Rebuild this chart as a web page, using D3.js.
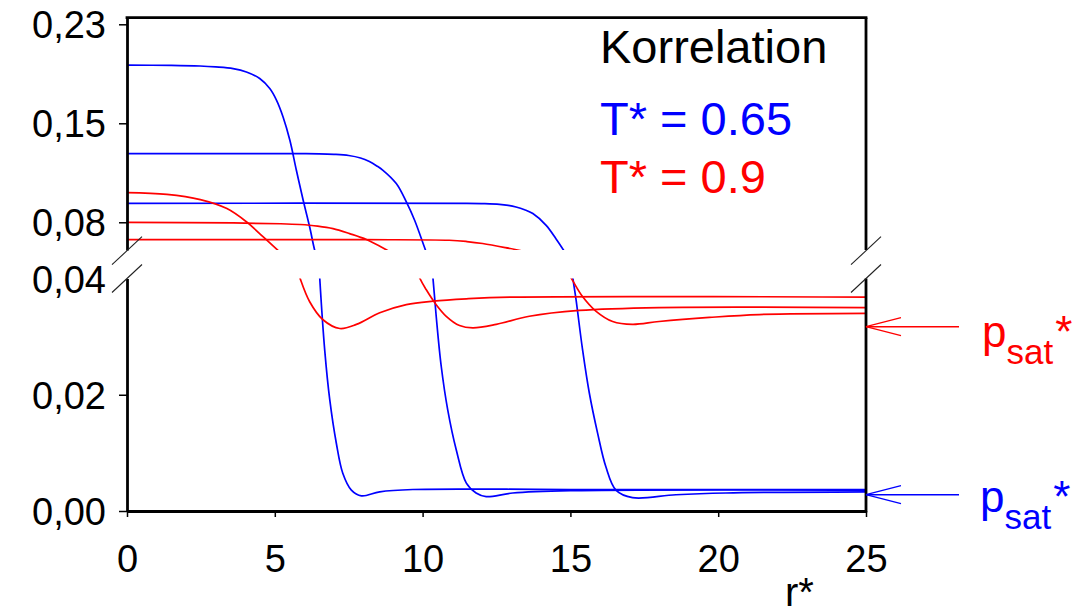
<!DOCTYPE html>
<html>
<head>
<meta charset="utf-8">
<script src="https://cdn.jsdelivr.net/npm/d3@7"></script>
<style>
    body { margin: 0; background: #fff; }
    svg { display: block; font-family: "Liberation Sans", Arial, sans-serif; }
</style>
</head>
<body>
<svg id="chart" width="1077" height="616"></svg>
<script>
// [r*, p*], T* = 0.65
const blue1 = [[0, 0.194], [1.5, 0.1939], [2.47, 0.1934], [3.0, 0.1927], [3.59, 0.1914], [4.04, 0.1889],
    [4.49, 0.1839], [4.83, 0.1763], [5.06, 0.1674], [5.28, 0.1548], [5.51, 0.1371], [5.73, 0.1144],
    [5.96, 0.0917], [6.18, 0.0714], [6.35, 0.0538], [6.45, 0.047], [6.52, 0.0401], [6.69, 0.0276],
    [6.86, 0.0191], [7.08, 0.0117], [7.3, 0.0065], [7.59, 0.0036], [7.93, 0.0026], [8.55, 0.0033],
    [9.67, 0.0037], [15, 0.0037], [25, 0.0037]]
const blue2 = [[0, 0.127], [5.85, 0.127], [6.5, 0.1269], [7.0, 0.1265], [7.5, 0.1256], [7.9, 0.1237],
    [8.2, 0.121], [8.45, 0.1177], [8.66, 0.1144], [9.11, 0.1043], [9.45, 0.0904], [9.73, 0.0765],
    [10.1, 0.0538], [10.22, 0.047], [10.35, 0.0401], [10.46, 0.0335], [10.63, 0.0249], [10.85, 0.0174],
    [11.14, 0.0105], [11.48, 0.0048], [11.81, 0.0031], [12.15, 0.00247], [13.05, 0.0031], [15, 0.0035], [25, 0.0036]]
const blue3 = [[0, 0.0894], [11.5, 0.0893], [12.1, 0.0891], [12.6, 0.0886], [12.9, 0.0878], [13.16, 0.0866],
    [13.45, 0.0845], [13.73, 0.0816], [14.18, 0.0727], [14.51, 0.0626], [14.77, 0.0538], [14.93, 0.047],
    [15.08, 0.0402], [15.19, 0.0364], [15.41, 0.0278], [15.64, 0.0203], [15.92, 0.0134], [16.2, 0.0076],
    [16.54, 0.0036], [17.1, 0.0023], [18.57, 0.0028], [20.26, 0.0031], [25, 0.0033]]

// T* = 0.9
const red1 = [[0, 0.0975], [1.35, 0.0962], [2.48, 0.0922], [3.38, 0.0854], [4.05, 0.0752], [4.61, 0.0639],
    [5.08, 0.0543], [5.45, 0.0468], [5.85, 0.0401], [6.18, 0.036], [6.63, 0.0329], [7.2, 0.0314],
    [7.76, 0.0321], [8.55, 0.0341], [9.45, 0.0355], [10.35, 0.0361], [11.48, 0.0365], [13.05, 0.0368], [25, 0.0368]]
const red2 = [[0, 0.075], [3.6, 0.0745], [5.2, 0.0739], [5.85, 0.0733], [6.45, 0.0721], [6.97, 0.0702],
    [7.53, 0.0664], [8.1, 0.0619], [8.83, 0.0535], [9.35, 0.047], [9.9, 0.0401], [10.12, 0.0381],
    [10.46, 0.0355], [10.8, 0.0335], [11.25, 0.0319], [11.7, 0.0315], [12.49, 0.0321], [13.61, 0.0335],
    [15.3, 0.0345], [18, 0.035], [25, 0.035]]
const red3 = [[0, 0.0619], [8, 0.0618], [10.9, 0.0614], [11.5, 0.0604], [12.03, 0.0589], [12.8, 0.0558],
    [13.35, 0.0533], [14.2, 0.0465], [15.02, 0.0401], [15.41, 0.0369], [15.86, 0.0344], [16.43, 0.0326],
    [17.1, 0.0321], [18, 0.0326], [19.7, 0.0333], [21.39, 0.0338], [25, 0.034]]

const xTicks = [0, 5, 10, 15, 20, 25]
const upperTicks = [0.075, 0.15, 0.225]
const upperTickLabels = ["0,08", "0,15", "0,23"]
const lowerTicks = [0, 0.02, 0.04]
const lowerTickLabels = ["0,00", "0,02", "0,04"]
const pSatRed = 0.0317
const pSatBlue = 0.0028

const BLUE = "#0000ff", RED = "#ff0000"

const svg = d3.select("#chart")

const x = d3.scaleLinear().domain([0, 25]).range([127, 866])
const yUp = d3.scaleLinear().domain([0.054, 0.23]).range([250, 17.7])
const yLow = d3.scaleLinear().domain([0, 0.04]).range([511, 278.5])

const defs = svg.append("defs")
defs.append("clipPath").attr("id", "clipUp").append("rect")
    .attr("x", x(0)).attr("y", yUp(0.23)).attr("width", x(25) - x(0)).attr("height", yUp(0.054) - yUp(0.23))
defs.append("clipPath").attr("id", "clipLow").append("rect")
    .attr("x", x(0)).attr("y", yLow(0.04)).attr("width", x(25) - x(0)).attr("height", yLow(0) - yLow(0.04))

const series = [
    {data: blue1, color: BLUE}, {data: blue2, color: BLUE}, {data: blue3, color: BLUE},
    {data: red1, color: RED}, {data: red2, color: RED}, {data: red3, color: RED}
]

const drawPanel = (yScale, clipId) => {
    const line = d3.line()
        .x(d => x(d[0]))
        .y(d => yScale(d[1]))
        .curve(d3.curveCatmullRom.alpha(0.5))
    svg.append("g")
        .attr("clip-path", "url(#" + clipId + ")")
        .selectAll("path")
        .data(series)
        .enter()
        .append("path")
        .attr("d", d => line(d.data))
        .attr("fill", "none")
        .attr("stroke", d => d.color)
        .attr("stroke-width", 1.7)
}
drawPanel(yUp, "clipUp")
drawPanel(yLow, "clipLow")

const styleAxis = (g) => {
    g.select(".domain").attr("stroke", "#000").attr("stroke-width", 2.8)
    g.selectAll(".tick line").attr("stroke", "#000").attr("stroke-width", 1.5)
    g.selectAll(".tick text").attr("fill", "#000").style("font-size", "38px")
        .style("font-family", "'Liberation Sans', Arial, sans-serif")
}

// left axis, upper and lower pieces
svg.append("g")
    .attr("transform", "translate(" + x(0) + ",0)")
    .call(d3.axisLeft(yUp).tickValues(upperTicks).tickSize(8).tickSizeOuter(0).tickPadding(13)
        .tickFormat((d, i) => upperTickLabels[i]))
    .call(styleAxis)
    .selectAll(".tick text").attr("dy", "0.36em")

const lowAxis = svg.append("g")
    .attr("transform", "translate(" + x(0) + ",0)")
    .call(d3.axisLeft(yLow).tickValues(lowerTicks).tickSize(8).tickSizeOuter(0).tickPadding(13)
        .tickFormat((d, i) => lowerTickLabels[i]))
    .call(styleAxis)
lowAxis.selectAll(".tick text").attr("dy", "0.36em")
lowAxis.selectAll(".tick").filter(d => d === 0.04).select("line").remove()

// bottom axis
svg.append("g")
    .attr("transform", "translate(0," + yLow(0) + ")")
    .call(d3.axisBottom(x).tickValues(xTicks).tickSize(6).tickSizeOuter(0).tickPadding(28)
        .tickFormat(d3.format("d")))
    .call(styleAxis)

// frame: top and right side (right side broken too)
const frame = svg.append("g").attr("stroke", "#000").attr("stroke-width", 2.8)
frame.append("line").attr("x1", x(0) - 1.4).attr("x2", x(25) + 1.4).attr("y1", yUp(0.23)).attr("y2", yUp(0.23))
frame.append("line").attr("x1", x(25)).attr("x2", x(25)).attr("y1", yUp(0.23)).attr("y2", yUp(0.054))
frame.append("line").attr("x1", x(25)).attr("x2", x(25)).attr("y1", yLow(0.04)).attr("y2", yLow(0) + 1.4)

// break marks
const breaks = svg.append("g").attr("stroke", "#222").attr("stroke-width", 1.1)
;[x(0), x(25)].forEach(bx => {
    ;[yUp(0.054) + 0.7, yLow(0.04)].forEach(by => {
        breaks.append("line")
            .attr("x1", bx - 15).attr("y1", by + 14)
            .attr("x2", bx + 15).attr("y2", by - 14)
    })
})

// legend
const legend = svg.append("g").style("font-size", "47px")
legend.append("text").attr("x", 600).attr("y", 63).attr("fill", "#000").text("Korrelation")
legend.append("text").attr("x", 600).attr("y", 135).attr("fill", BLUE).text("T* = 0.65")
legend.append("text").attr("x", 600).attr("y", 193).attr("fill", RED).text("T* = 0.9")

// x label, sits at the bottom edge as in the source
svg.append("text").attr("x", 785).attr("y", 606).style("font-size", "40px").attr("fill", "#000").text("r*")

// p_sat arrows
const drawPSat = (value, color, labelX, baseline) => {
    const tipX = x(25), tipY = yLow(value)
    const g = svg.append("g").attr("stroke", color).attr("stroke-width", 1.3).attr("fill", "none")
    g.append("line").attr("x1", tipX).attr("y1", tipY).attr("x2", tipX + 93).attr("y2", tipY)
    g.append("polyline").attr("points", [[tipX + 35, tipY - 9], [tipX, tipY], [tipX + 35, tipY + 9]].join(" "))
    const t = svg.append("text").attr("x", labelX).attr("y", baseline).attr("fill", color).style("font-size", "44px")
    t.append("tspan").text("p")
    t.append("tspan").attr("dy", 16.6).style("font-size", "35px").text("sat")
    t.append("tspan").attr("dy", -16.6).attr("dx", 2).text("*")
}
drawPSat(pSatRed, RED, 982, 347)
drawPSat(pSatBlue, BLUE, 980, 512)
</script>
</body>
</html>
